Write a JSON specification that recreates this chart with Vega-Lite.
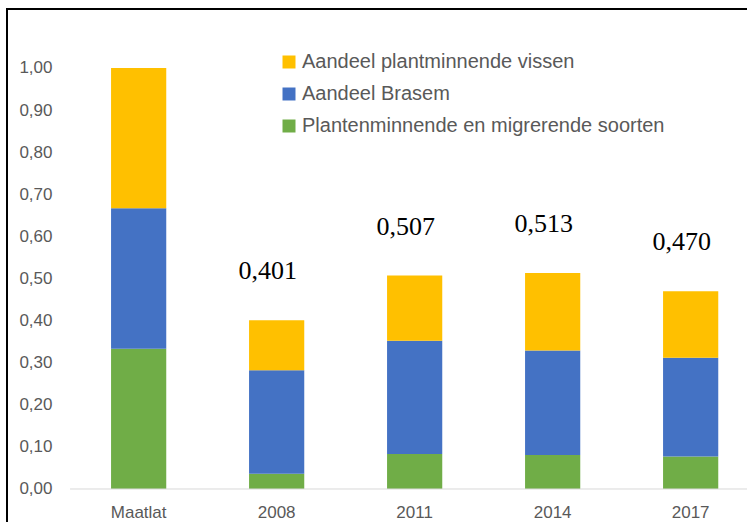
{
  "$schema": "https://vega.github.io/schema/vega-lite/v6.json",
  "width": 760,
  "height": 531,
  "autosize": {"type": "none"},
  "padding": {"left": 7, "top": 9, "right": 0, "bottom": 0},
  "background": "white",
  "datasets": {
    "aandelen": [
      {"categorie": "Maatlat", "groep": "Plantenminnende en migrerende soorten", "volgorde": 1, "waarde": 0.3333},
      {"categorie": "Maatlat", "groep": "Aandeel Brasem", "volgorde": 2, "waarde": 0.3333},
      {"categorie": "Maatlat", "groep": "Aandeel plantminnende vissen", "volgorde": 3, "waarde": 0.3334},
      {"categorie": "2008", "groep": "Plantenminnende en migrerende soorten", "volgorde": 1, "waarde": 0.036},
      {"categorie": "2008", "groep": "Aandeel Brasem", "volgorde": 2, "waarde": 0.246},
      {"categorie": "2008", "groep": "Aandeel plantminnende vissen", "volgorde": 3, "waarde": 0.119},
      {"categorie": "2011", "groep": "Plantenminnende en migrerende soorten", "volgorde": 1, "waarde": 0.083},
      {"categorie": "2011", "groep": "Aandeel Brasem", "volgorde": 2, "waarde": 0.269},
      {"categorie": "2011", "groep": "Aandeel plantminnende vissen", "volgorde": 3, "waarde": 0.155},
      {"categorie": "2014", "groep": "Plantenminnende en migrerende soorten", "volgorde": 1, "waarde": 0.081},
      {"categorie": "2014", "groep": "Aandeel Brasem", "volgorde": 2, "waarde": 0.248},
      {"categorie": "2014", "groep": "Aandeel plantminnende vissen", "volgorde": 3, "waarde": 0.184},
      {"categorie": "2017", "groep": "Plantenminnende en migrerende soorten", "volgorde": 1, "waarde": 0.077},
      {"categorie": "2017", "groep": "Aandeel Brasem", "volgorde": 2, "waarde": 0.235},
      {"categorie": "2017", "groep": "Aandeel plantminnende vissen", "volgorde": 3, "waarde": 0.158}
    ],
    "totalen": [
      {"categorie": "2008", "totaal": 0.401, "label": "0,401"},
      {"categorie": "2011", "totaal": 0.507, "label": "0,507"},
      {"categorie": "2014", "totaal": 0.513, "label": "0,513"},
      {"categorie": "2017", "totaal": 0.470, "label": "0,470"}
    ],
    "basis": [{"categorie": "Maatlat", "niveau": 0}]
  },
  "layer": [
    {
      "data": {"name": "aandelen"},
      "mark": {"type": "bar"},
      "encoding": {
        "x": {
          "field": "categorie",
          "type": "nominal",
          "scale": {
            "domain": ["Maatlat", "2008", "2011", "2014", "2017"],
            "paddingInner": 0.6,
            "paddingOuter": 0.5536,
            "align": 0.681
          },
          "axis": {
            "title": null,
            "orient": "bottom",
            "offset": -51,
            "domain": false,
            "ticks": false,
            "tickSize": 0,
            "labelPadding": 15,
            "labelAngle": 0,
            "labelFont": "Liberation Sans",
            "labelFontSize": 17,
            "labelColor": "#595959"
          }
        },
        "y": {
          "field": "waarde",
          "type": "quantitative",
          "stack": "zero",
          "scale": {"domain": [-0.12114, 1.14014], "nice": false, "zero": false},
          "axis": {
            "title": null,
            "orient": "left",
            "values": [0, 0.1, 0.2, 0.3, 0.4, 0.5, 0.6, 0.7, 0.8, 0.9, 1.0],
            "labelExpr": "replace(format(datum.value, '.2f'), '.', ',')",
            "domain": false,
            "ticks": false,
            "tickSize": 0,
            "grid": false,
            "labelPadding": -45,
            "labelAlign": "right",
            "labelFont": "Liberation Sans",
            "labelFontSize": 17,
            "labelColor": "#595959"
          }
        },
        "color": {
          "field": "groep",
          "type": "nominal",
          "scale": {
            "domain": ["Aandeel plantminnende vissen", "Aandeel Brasem", "Plantenminnende en migrerende soorten"],
            "range": ["#FFC000", "#4472C4", "#70AD47"]
          },
          "legend": {
            "title": null,
            "orient": "none",
            "legendX": 272,
            "legendY": 43,
            "symbolType": "square",
            "symbolSize": 169,
            "symbolStrokeWidth": 0,
            "rowPadding": 12,
            "labelOffset": 3,
            "labelFont": "Liberation Sans",
            "labelFontSize": 20,
            "labelColor": "#595959",
            "labelLimit": 500,
            "padding": 0
          }
        },
        "order": {"field": "volgorde", "type": "quantitative"}
      }
    },
    {
      "data": {"name": "basis"},
      "mark": {"type": "rule", "color": "#d9d9d9", "strokeWidth": 1},
      "encoding": {
        "x": {"field": "categorie", "type": "nominal", "bandPosition": -0.743},
        "x2": {"value": "width"},
        "y": {"field": "niveau", "type": "quantitative"}
      }
    },
    {
      "data": {"name": "totalen"},
      "mark": {
        "type": "text",
        "font": "Liberation Serif",
        "fontSize": 26,
        "color": "#000000",
        "baseline": "middle",
        "align": "center",
        "dx": -9,
        "dy": -49
      },
      "encoding": {
        "x": {"field": "categorie", "type": "nominal"},
        "y": {"field": "totaal", "type": "quantitative"},
        "text": {"field": "label"}
      }
    }
  ],
  "config": {
    "view": {"stroke": "#000000", "strokeWidth": 2}
  }
}
